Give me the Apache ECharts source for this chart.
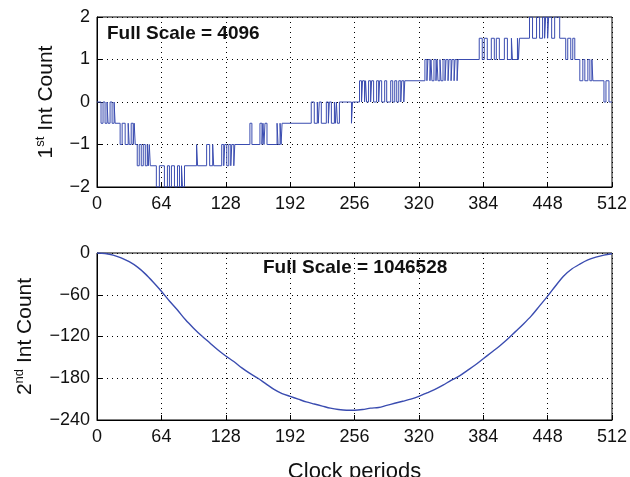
<!DOCTYPE html>
<html>
<head>
<meta charset="utf-8">
<script src="https://cdn.jsdelivr.net/npm/echarts@6/dist/echarts.min.js"></script>
<style>
  html, body { margin: 0; padding: 0; background: #fff; }
  #chart { width: 630px; height: 477px; }
</style>
</head>
<body>
<div id="chart"></div>
<script>
// x ticks (clock periods)
var xTicks = [0, 64, 128, 192, 256, 320, 384, 448, 512];

// 1st integrator count: [clock, level] change points (held until next point)
var firstInt = [
    [0, 0], [4, -0.5], [6, 0], [8, -0.5], [10, 0], [11, -0.5], [13, 0], [15, -0.5], [17, 0], [18, -0.5],
    [23, -1], [25, -0.5], [28, -1], [31, -0.5], [32, -1], [34, -0.5], [36, -1], [37, -0.5], [38, -1],
    [40, -1.5], [42, -1], [44, -1.5], [46, -1], [48, -1.5], [50, -1], [51, -1.5], [52, -1], [53, -1.5],
    [59, -2], [62, -1.5], [67, -2], [70, -1.5], [72, -2], [74, -1.5], [77, -2], [80, -1.5], [82, -2], [84, -1.5], [85, -2], [87, -1.5],
    [99, -1], [100, -1.5], [109, -1], [112, -1.5], [115, -1], [116, -1.5], [124, -1], [126, -1.5], [127, -1], [129, -1.5],
    [131, -1], [133, -1.5], [134, -1], [136, -1.5], [137, -1],
    [152, -0.5], [154, -1], [162, -0.5], [164, -1], [165, -0.5], [166, -1], [167, -0.5], [169, -1],
    [179, -0.5], [180, -1], [182, -0.5], [183, -1], [184, -0.5],
    [213, 0], [216, -0.5], [219, 0], [220, -0.5], [221, 0], [223, -0.5], [228, 0], [230, -0.5], [231, 0], [233, -0.5],
    [236, 0], [237, -0.5], [238, 0], [239, -0.5], [241, 0], [253, -0.5], [254, 0],
    [261, 0.5], [263, 0], [264, 0.5], [266, 0], [267, 0.5], [268, 0], [270, 0.5], [272, 0], [273, 0.5], [275, 0],
    [278, 0.5], [280, 0], [281, 0.5], [283, 0], [286, 0.5], [288, 0], [292, 0.5], [294, 0], [296, 0.5], [298, 0],
    [300, 0.5], [302, 0], [303, 0.5], [305, 0], [306, 0.5],
    [326, 1], [328, 0.5], [329, 1], [331, 0.5], [332, 1], [333, 0.5], [335, 1], [337, 0.5], [338, 1], [339, 0.5],
    [341, 1], [342, 0.5], [344, 1], [346, 0.5], [347, 1], [349, 0.5], [350, 1], [352, 0.5], [353, 1], [355, 0.5],
    [356, 1], [358, 0.5], [359, 1],
    [380, 1.5], [383, 1], [385, 1.5], [388, 1], [392, 1.5], [395, 1], [397, 1.5], [400, 1], [405, 1.5], [408, 1],
    [412, 1.5], [413, 1], [418, 1.5], [419, 1], [420, 1.5],
    [430, 2], [433, 1.5], [437, 2], [440, 1.5], [443, 2], [445, 1.5], [446, 2], [448, 1.5], [449, 2], [452, 1.5],
    [455, 2], [460, 1.5],
    [466, 1], [468, 1.5], [471, 1], [473, 1.5], [475, 1],
    [480, 0.5], [483, 1], [485, 0.5], [488, 1], [490, 0.5], [492, 1], [493, 0.5],
    [504, 0], [506, 0.5], [509, 0], [512, 0]
];

// 2nd integrator count (scaled), sampled every 8 clocks
var secondInt = [
    [0, 0], [8, -0.8], [16, -3], [24, -7], [32, -12.5], [40, -20], [48, -30], [56, -42], [64, -55],
    [72, -69], [80, -82], [88, -96], [96, -108], [104, -119], [112, -129], [120, -139], [128, -148],
    [136, -156], [144, -165], [152, -173], [160, -180], [168, -188], [176, -196], [184, -202], [192, -206],
    [200, -210], [208, -214], [216, -217], [224, -220], [232, -223], [240, -225], [248, -226], [256, -226],
    [264, -225], [272, -223], [280, -222], [288, -219], [296, -216], [304, -213], [312, -210], [320, -206],
    [328, -201], [336, -196], [344, -190], [352, -183], [360, -177], [368, -169], [376, -161], [384, -152],
    [392, -143], [400, -134], [408, -124], [416, -113], [424, -102], [432, -90], [440, -76], [448, -62],
    [456, -47], [464, -33], [472, -23], [480, -16], [488, -10], [496, -6], [504, -3], [512, -1]
];

var font = '"Liberation Sans", Arial, Helvetica, sans-serif';
var lineColor = '#3a4cb0';

var minus = function (v) { return String(v).replace('-', '\u2212'); };

var xAxisBase = function (idx, showName) {
    return {
        type: 'value', gridIndex: idx, min: 0, max: 512, interval: 64,
        axisLine: { show: true, onZero: false, lineStyle: { color: '#000', width: 1 } },
        axisTick: { show: true, inside: true, length: 5, lineStyle: { color: '#000' } },
        axisLabel: { color: '#111', fontSize: 18, fontFamily: font, margin: 8 },
        splitLine: { show: true, lineStyle: { color: '#000', type: [1, 4], width: 1 } },
        name: showName ? 'Clock periods' : '',
        nameLocation: 'middle', nameGap: 41,
        nameTextStyle: { color: '#111', fontSize: 22, fontFamily: font }
    };
};

var yName = function (n, sup) {
    return '{b|' + n + '}{s|' + sup + '}{b| Int Count}';
};
var yRich = {
    b: { fontSize: 21, fontFamily: font, color: '#111' },
    s: { fontSize: 13, fontFamily: font, color: '#111', padding: [0, 0, 11, 0] }
};

var myChart = echarts.init(document.getElementById('chart'));
var option = {
    backgroundColor: '#fff',
    animation: false,
    grid: [
        { left: 97, top: 17, width: 515, height: 170, outerBoundsMode: 'none', containLabel: false, show: true, borderColor: '#000', borderWidth: 1, backgroundColor: 'transparent' },
        { left: 97, top: 253, width: 515, height: 167, outerBoundsMode: 'none', containLabel: false, show: true, borderColor: '#000', borderWidth: 1, backgroundColor: 'transparent' }
    ],
    xAxis: [xAxisBase(0, false), xAxisBase(1, true)],
    yAxis: [
        {
            type: 'value', gridIndex: 0, min: -2, max: 2, interval: 1,
            axisLine: { show: true, lineStyle: { color: '#000' } },
            axisTick: { show: true, inside: true, length: 5, lineStyle: { color: '#000' } },
            axisLabel: { color: '#111', fontSize: 18, fontFamily: font, margin: 7, formatter: minus },
            splitLine: { show: true, lineStyle: { color: '#000', type: [1, 4], width: 1 } },
            name: yName('1', 'st'), nameLocation: 'middle', nameGap: 39, nameRotate: 90,
            nameTextStyle: { rich: yRich }
        },
        {
            type: 'value', gridIndex: 1, min: -240, max: 0, interval: 60,
            axisLine: { show: true, lineStyle: { color: '#000' } },
            axisTick: { show: true, inside: true, length: 5, lineStyle: { color: '#000' } },
            axisLabel: { color: '#111', fontSize: 18, fontFamily: font, margin: 7, formatter: minus },
            splitLine: { show: true, lineStyle: { color: '#000', type: [1, 4], width: 1 } },
            name: yName('2', 'nd'), nameLocation: 'middle', nameGap: 60, nameRotate: 90,
            nameTextStyle: { rich: yRich }
        }
    ],
    graphic: [
        { type: 'text', left: 107, top: 24, style: { text: 'Full Scale = 4096', fontSize: 19, fontWeight: 'bold', fontFamily: font, fill: '#111' } },
        { type: 'text', left: 263, top: 258, style: { text: 'Full Scale = 1046528', fontSize: 19, fontWeight: 'bold', fontFamily: font, fill: '#111' } }
    ],
    series: [
        {
            type: 'line', xAxisIndex: 0, yAxisIndex: 0, step: 'end', showSymbol: false,
            lineStyle: { color: lineColor, width: 1 }, data: firstInt
        },
        {
            type: 'line', xAxisIndex: 1, yAxisIndex: 1, smooth: 0.3, showSymbol: false,
            lineStyle: { color: lineColor, width: 1.4 }, data: secondInt
        }
    ]
};
myChart.setOption(option);
</script>
</body>
</html>
